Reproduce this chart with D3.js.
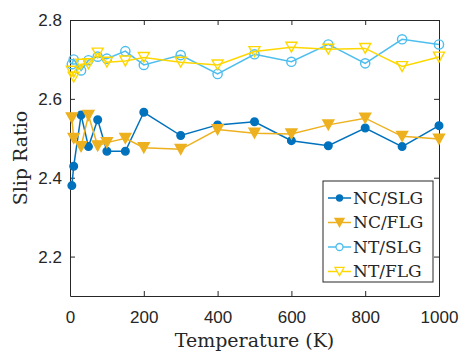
<!DOCTYPE html>
<html>
<head>
<meta charset="utf-8">
<script src="https://cdn.jsdelivr.net/npm/d3@7"></script>
<style>
  body { margin: 0; background: #fff; }
  svg { display: block; font-family: "DejaVu Serif", serif; }
  .axis path, .axis line { stroke: #262626; }
  .axis text { fill: #262626; font-size: 17px; }
</style>
</head>
<body>
<svg width="462" height="354"></svg>
<script>
// temperatures (K)
var temps = [5, 10, 30, 50, 75, 100, 150, 200, 300, 400, 500, 600, 700, 800, 900, 1000];

// slip ratio series
var ncSlg = [2.380, 2.429, 2.559, 2.479, 2.547, 2.467, 2.467, 2.566, 2.507, 2.534, 2.542, 2.494, 2.481, 2.526, 2.479, 2.532];
var ncFlg = [2.552, 2.500, 2.479, 2.558, 2.481, 2.489, 2.500, 2.476, 2.472, 2.522, 2.513, 2.511, 2.534, 2.551, 2.505, 2.498];
var ntSlg = [2.688, 2.700, 2.672, 2.698, 2.707, 2.702, 2.721, 2.686, 2.711, 2.663, 2.713, 2.694, 2.738, 2.690, 2.751, 2.738];
var ntFlg = [2.670, 2.655, 2.688, 2.689, 2.716, 2.693, 2.696, 2.705, 2.693, 2.686, 2.720, 2.731, 2.726, 2.728, 2.682, 2.706];

var xTicks = [0, 200, 400, 600, 800, 1000];
var yTicks = [2.2, 2.4, 2.6, 2.8];
var seriesNames = ["NC/SLG", "NC/FLG", "NT/SLG", "NT/FLG"];

var series = [
  { name: seriesNames[0], values: ncSlg, color: "#0072BD", marker: "circle", filled: true },
  { name: seriesNames[1], values: ncFlg, color: "#EDB120", marker: "tri", filled: true },
  { name: seriesNames[2], values: ntSlg, color: "#4DBEEE", marker: "circle", filled: false },
  { name: seriesNames[3], values: ntFlg, color: "#FFD700", marker: "tri", filled: false }
];

var svg = d3.select("svg");
var margin = { top: 20, right: 23, bottom: 58, left: 70 };
var width = 462 - margin.left - margin.right;
var height = 354 - margin.top - margin.bottom;

var g = svg.append("g").attr("transform", "translate(" + margin.left + "," + margin.top + ")");

var x = d3.scaleLinear().domain([0, 1000]).range([0, width]);
var y = d3.scaleLinear().domain([2.1, 2.8]).range([height, 0]);

var tickLen = 5;

// bottom / left axes with labels, ticks pointing inward
g.append("g")
  .attr("class", "axis")
  .attr("transform", "translate(0," + height + ")")
  .call(d3.axisBottom(x).tickValues(xTicks).tickFormat(d3.format("d")).tickSize(-tickLen).tickPadding(12).tickSizeOuter(0))
  .selectAll("text").attr("dy", "0.9em");

g.append("g")
  .attr("class", "axis")
  .call(d3.axisLeft(y).tickValues(yTicks).tickFormat(d3.format(".1f")).tickSize(-tickLen).tickPadding(8).tickSizeOuter(0));

// top / right axes, no labels
g.append("g")
  .attr("class", "axis")
  .call(d3.axisTop(x).tickValues(xTicks).tickSize(-tickLen).tickFormat("").tickSizeOuter(0));

g.append("g")
  .attr("class", "axis")
  .attr("transform", "translate(" + width + ",0)")
  .call(d3.axisRight(y).tickValues(yTicks).tickSize(-tickLen).tickFormat("").tickSizeOuter(0));

g.selectAll(".axis .domain").attr("stroke-width", 1);

// symbols
var triDown = function (s) {
  var h = s * 0.9;
  return "M" + (-s / 2) + "," + (-h / 2) + "L" + (s / 2) + "," + (-h / 2) + "L0," + (h / 2) + "Z";
};

function drawMarker(sel, d, s) {
  if (s.marker === "circle") {
    sel.append("circle")
      .attr("r", s.filled ? 3.8 : 4.6)
      .attr("fill", s.filled ? s.color : "none")
      .attr("stroke", s.color)
      .attr("stroke-width", 1.4);
  } else {
    sel.append("path")
      .attr("d", triDown(11))
      .attr("fill", s.filled ? s.color : "none")
      .attr("stroke", s.color)
      .attr("stroke-width", 1.4)
      .attr("stroke-linejoin", "miter");
  }
}

var line = d3.line()
  .x(function (d, i) { return x(temps[i]); })
  .y(function (d) { return y(d); });

series.forEach(function (s) {
  g.append("path")
    .datum(s.values)
    .attr("fill", "none")
    .attr("stroke", s.color)
    .attr("stroke-width", 1.5)
    .attr("d", line);

  g.selectAll(null)
    .data(s.values)
    .enter().append("g")
    .attr("transform", function (d, i) { return "translate(" + x(temps[i]) + "," + y(d) + ")"; })
    .each(function (d) { drawMarker(d3.select(this), d, s); });
});

// axis titles
svg.append("text")
  .attr("x", margin.left + width / 2)
  .attr("y", 347)
  .attr("text-anchor", "middle")
  .attr("fill", "#262626")
  .style("font-size", "19px")
  .text("Temperature (K)");

svg.append("text")
  .attr("transform", "translate(27," + (margin.top + height / 2) + ") rotate(-90)")
  .attr("text-anchor", "middle")
  .attr("fill", "#262626")
  .style("font-size", "19px")
  .text("Slip Ratio");

// legend
var legend = svg.append("g").attr("transform", "translate(323,181)");
legend.append("rect")
  .attr("width", 110)
  .attr("height", 101)
  .attr("fill", "#fff")
  .attr("stroke", "#262626")
  .attr("stroke-width", 1);

series.forEach(function (s, i) {
  var row = legend.append("g").attr("transform", "translate(0," + (17 + i * 24.5) + ")");
  row.append("line")
    .attr("x1", 5).attr("x2", 28)
    .attr("stroke", s.color).attr("stroke-width", 1.5);
  var m = row.append("g").attr("transform", "translate(16.5,0)");
  if (s.marker === "circle") {
    m.append("circle")
      .attr("r", s.filled ? 3 : 3.5)
      .attr("fill", s.filled ? s.color : "#fff")
      .attr("stroke", s.color).attr("stroke-width", 1.3);
  } else {
    m.append("path")
      .attr("d", triDown(9))
      .attr("fill", s.filled ? s.color : "#fff")
      .attr("stroke", s.color).attr("stroke-width", 1.3);
  }
  row.append("text")
    .attr("x", 30)
    .attr("dy", "0.35em")
    .attr("fill", "#262626")
    .style("font-size", "17px")
    .text(s.name);
});
</script>
</body>
</html>
